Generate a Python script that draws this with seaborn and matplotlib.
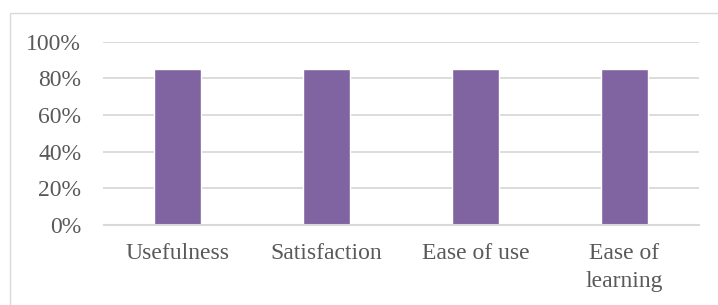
import matplotlib
matplotlib.use("Agg")
import matplotlib.pyplot as plt
import seaborn as sns
import pandas as pd
from matplotlib.patches import Rectangle
from matplotlib.ticker import FuncFormatter

categories = ["Usefulness", "Satisfaction", "Ease of use", "Ease of learning"]
tick_labels = ["Usefulness", "Satisfaction", "Ease of use", "Ease of\nlearning"]
values = [0.85, 0.85, 0.85, 0.85]
y_ticks = [0.0, 0.2, 0.4, 0.6, 0.8, 1.0]

sns.set_style("white")
plt.rcParams["font.family"] = ["Liberation Serif", "DejaVu Serif"]

df = pd.DataFrame({"category": categories, "value": values})

fig = plt.figure(figsize=(7.18, 3.05), dpi=100)
ax = fig.add_axes([103.5 / 718, 80.3 / 305, 595 / 718, 183 / 305])

sns.barplot(data=df, x="category", y="value", color="#8064A2", saturation=1,
            width=0.315, ax=ax, zorder=3)

ax.set_ylim(0, 1)
ax.set_yticks(y_ticks)
ax.yaxis.set_major_formatter(FuncFormatter(lambda v, p: f"{v*100:.0f}%"))
ax.set_xticks(range(len(categories)))
ax.set_xticklabels(tick_labels, linespacing=1.45)
ax.set_xlabel("")
ax.set_ylabel("")

for s in ["top", "right", "left"]:
    ax.spines[s].set_visible(False)
ax.spines["bottom"].set_color("#d9d9d9")
ax.spines["bottom"].set_linewidth(1.5)
ax.spines["bottom"].set_zorder(4)

ax.grid(axis="y", color="#d9d9d9", linewidth=1.3, zorder=0)
ax.set_axisbelow(True)
ax.tick_params(axis="both", length=0, labelsize=17, labelcolor="#595959")
ax.tick_params(axis="y", pad=16)
ax.tick_params(axis="x", pad=13)

# chart-area border
fig.patches.append(Rectangle((9.5 / 718, -0.1), 1.2, (305 - 12.5) / 305 + 0.1,
                             transform=fig.transFigure, fill=False,
                             edgecolor="#d9d9d9", linewidth=1.0))

fig.savefig("out.png", dpi=100)
